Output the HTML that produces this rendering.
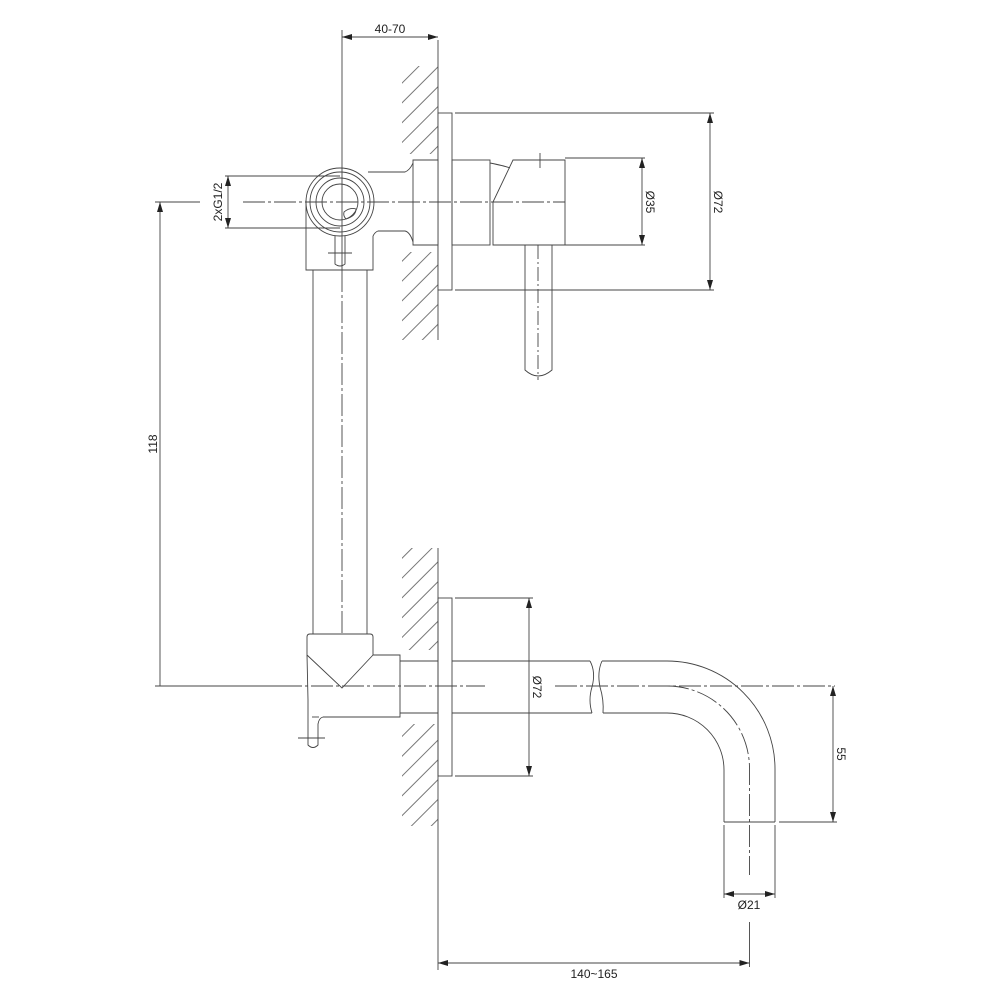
<!DOCTYPE html>
<html><head><meta charset="utf-8"><style>
html,body{margin:0;padding:0;background:#fff;}
svg{display:block}
text{font-family:"Liberation Sans",sans-serif;font-size:12px;fill:#222}
</style></head><body>
<svg width="1000" height="1000" viewBox="0 0 1000 1000" xmlns="http://www.w3.org/2000/svg">
<defs>
<marker id="a" viewBox="0 0 10 6" refX="10" refY="3" markerWidth="10" markerHeight="6" orient="auto-start-reverse" markerUnits="userSpaceOnUse"><path d="M0,0L10,3L0,6z" fill="#222"/></marker>
<pattern id="h" width="14" height="14" patternUnits="userSpaceOnUse" patternTransform="rotate(45)"><line x1="7" y1="0" x2="7" y2="14" stroke="#555" stroke-width="0.8"/></pattern>
</defs>
<g fill="none" stroke="#444" stroke-width="0.9">
<rect x="402" y="66" width="36" height="88" fill="url(#h)" stroke="none"/>
<rect x="402" y="252" width="36" height="88" fill="url(#h)" stroke="none"/>
<rect x="402" y="548" width="36" height="102" fill="url(#h)" stroke="none"/>
<rect x="402" y="724" width="36" height="102" fill="url(#h)" stroke="none"/>
<line x1="438" y1="40" x2="438" y2="340"/>
<line x1="438" y1="548" x2="438" y2="970"/>
<line x1="342" y1="30" x2="342" y2="270"/>
<line x1="342" y1="37" x2="438" y2="37" marker-start="url(#a)" marker-end="url(#a)"/>
<rect x="438" y="113" width="14" height="177" fill="#fff"/>
<line x1="455" y1="113" x2="714" y2="113"/>
<line x1="455" y1="290" x2="714" y2="290"/>
<line x1="710" y1="113" x2="710" y2="290" marker-start="url(#a)" marker-end="url(#a)"/>
<path d="M413,160 H438 V245 H413 Z" fill="#fff"/>
<path d="M413,163 Q410,170 405,172 H368"/>
<path d="M413,242 Q410,232 405,231 H378 Q375,232 373,236"/>
<rect x="452" y="160" width="38" height="85"/>
<path d="M490,163 Q505,166 510,168"/>
<path d="M493,245 V202 L513,160 H565 V245 Z"/>
<line x1="565" y1="158" x2="645" y2="158"/>
<line x1="565" y1="245" x2="645" y2="245"/>
<line x1="642" y1="158" x2="642" y2="245" marker-start="url(#a)" marker-end="url(#a)"/>
<line x1="540" y1="153" x2="540" y2="168"/><line x1="533" y1="160" x2="547" y2="160"/>
<path d="M525,245 V370 Q538,382 552,370 V245"/>
<line x1="538" y1="245" x2="538" y2="380" stroke-dasharray="14,3,2,3"/>
<path d="M306,200 V270 H373 V236"/>
<circle cx="340" cy="202" r="34"/>
<circle cx="340" cy="202" r="30"/>
<circle cx="340" cy="202" r="24"/>
<circle cx="340" cy="202" r="18"/>
<path d="M344,212 Q350,207 356,209 Q356,216 346,219 Q343,216 344,212Z"/>
<path d="M335,236 V264 Q340,268 345,264 V236"/>
<line x1="328" y1="253" x2="352" y2="253"/>
<line x1="313" y1="270" x2="313" y2="634"/>
<line x1="367" y1="270" x2="367" y2="634"/>
<line x1="243" y1="202" x2="565" y2="202" stroke-dasharray="22,3,3,3"/>
<line x1="342" y1="270" x2="342" y2="690" stroke-dasharray="22,3,3,3"/>
<line x1="225" y1="176" x2="340" y2="176"/>
<line x1="225" y1="228" x2="340" y2="228"/>
<line x1="228" y1="176" x2="228" y2="228" marker-start="url(#a)" marker-end="url(#a)"/>
<line x1="155" y1="202" x2="200" y2="202"/>
<line x1="155" y1="686" x2="300" y2="686"/>
<line x1="160" y1="202" x2="160" y2="686" marker-start="url(#a)"/>
<path d="M307,637 Q307,634 310,634 H370 Q373,634 373,637 V655 H400 V717 H323 Q319,718 318,724 V745 Q313,750 308,745 V700 L307,655 Z" fill="#fff"/>
<path d="M307,655 L342,688 L373,655"/>
<line x1="298" y1="738" x2="325" y2="738"/>
<line x1="312" y1="717" x2="319" y2="717"/>
<line x1="400" y1="661" x2="438" y2="661"/>
<line x1="400" y1="713" x2="438" y2="713"/>
<rect x="438" y="598" width="14" height="178"/>
<line x1="452" y1="661" x2="590" y2="661"/>
<line x1="452" y1="713" x2="592" y2="713"/>
<path d="M590,661 Q596,672 592,687 Q588,700 592,713"/>
<path d="M602,661 Q597,672 600,687 Q604,700 603,713"/>
<line x1="455" y1="598" x2="533" y2="598"/>
<line x1="455" y1="776" x2="533" y2="776"/>
<line x1="529" y1="598" x2="529" y2="776" marker-start="url(#a)" marker-end="url(#a)"/>
<path d="M602,661 H667 A108,108 0 0 1 775,769 V822"/>
<path d="M603,713 H667 A57,57 0 0 1 724,770 V822"/>
<line x1="724" y1="822" x2="775" y2="822"/>
<path d="M667,686 A82.5,82.5 0 0 1 749.5,768.5 V875" stroke-dasharray="22,3,3,3"/>
<line x1="280" y1="686" x2="485" y2="686" stroke-dasharray="22,3,3,3"/>
<line x1="555" y1="686" x2="835" y2="686" stroke-dasharray="22,3,3,3"/>
<line x1="779" y1="822" x2="837" y2="822"/>
<line x1="833" y1="686" x2="833" y2="822" marker-start="url(#a)" marker-end="url(#a)"/>
<line x1="724" y1="825" x2="724" y2="898"/>
<line x1="775" y1="825" x2="775" y2="898"/>
<line x1="724" y1="894" x2="775" y2="894" marker-start="url(#a)" marker-end="url(#a)"/>
<line x1="749.5" y1="922" x2="749.5" y2="967"/>
<line x1="438" y1="963" x2="749.5" y2="963" marker-start="url(#a)" marker-end="url(#a)"/>
</g>
<text x="390" y="33" text-anchor="middle">40-70</text>
<text x="594" y="978" text-anchor="middle">140~165</text>
<text x="749" y="909" text-anchor="middle">Ø21</text>
<text transform="translate(157,444) rotate(-90)" text-anchor="middle">118</text>
<text transform="translate(222,202) rotate(-90)" text-anchor="middle">2xG1/2</text>
<text transform="translate(646,202) rotate(90)" text-anchor="middle">Ø35</text>
<text transform="translate(714,202) rotate(90)" text-anchor="middle">Ø72</text>
<text transform="translate(533,687) rotate(90)" text-anchor="middle">Ø72</text>
<text transform="translate(837,754) rotate(90)" text-anchor="middle">55</text>
</svg>
</body></html>
